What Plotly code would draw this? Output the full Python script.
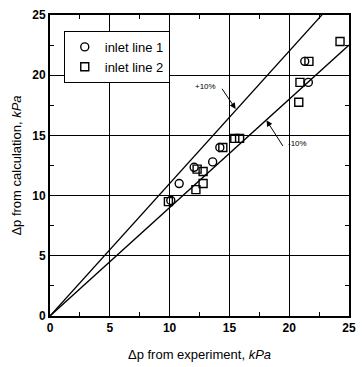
import plotly.graph_objects as go

# Data
line1_exp = [10.1, 10.8, 12.05, 13.6, 14.2, 21.3, 21.6]
line1_calc = [9.6, 11.0, 12.35, 12.8, 14.0, 21.15, 19.4]

line2_exp = [9.9, 12.2, 12.8, 12.3, 12.8, 14.45, 15.45, 15.85, 20.8, 20.9, 21.65, 24.25]
line2_calc = [9.5, 10.5, 11.0, 12.2, 12.0, 14.0, 14.75, 14.75, 17.75, 19.4, 21.15, 22.8]

band_factors = [1.1, 0.9]
band_labels = ["+10%", "-10%"]
line_x = [0, 25]
tick_vals = [0, 5, 10, 15, 20, 25]

FONT = "Liberation Sans, Arial, sans-serif"

fig = go.Figure()

for f in band_factors:
    fig.add_trace(go.Scatter(
        x=line_x, y=[f * v for v in line_x], mode="lines",
        line=dict(color="black", width=1.3), showlegend=False, hoverinfo="skip"))

fig.add_trace(go.Scatter(
    x=line1_exp, y=line1_calc, mode="markers", name="inlet line 1",
    marker=dict(symbol="circle-open", size=8, color="black", line=dict(width=1.4))))
fig.add_trace(go.Scatter(
    x=line2_exp, y=line2_calc, mode="markers", name="inlet line 2",
    marker=dict(symbol="square-open", size=8, color="black", line=dict(width=1.4))))

axis_common = dict(
    range=[0, 25], tickmode="array", tickvals=tick_vals,
    ticks="inside", ticklen=3, tickcolor="black", tickwidth=1,
    showgrid=True, gridcolor="black", gridwidth=1.2,
    showline=True, linecolor="black", linewidth=2, mirror="allticks",
    zeroline=False,
    tickfont=dict(family=FONT, size=12, color="black", weight="bold"),
    minor=dict(tickmode="linear", dtick=2.5, tick0=0, ticks="inside", ticklen=4,
               tickcolor="black", tickwidth=1.2, showgrid=False),
)

fig.update_xaxes(**axis_common,
                 title=dict(text="Δp from experiment, <i>kPa</i>",
                            font=dict(family=FONT, size=13, color="black"),
                            standoff=15))
fig.update_yaxes(**axis_common,
                 title=dict(text="Δp from calculation, <i>kPa</i>",
                            font=dict(family=FONT, size=13, color="black"),
                            standoff=8))

# annotations for +/-10% lines
fig.add_annotation(x=12.99, y=19.1, text=band_labels[0], showarrow=False,
                   font=dict(family=FONT, size=8, color="black"))
fig.add_annotation(x=15.52, y=17.2, ax=14.3, ay=19.0, axref="x", ayref="y",
                   text="", showarrow=True, arrowhead=2, arrowsize=1.2,
                   arrowwidth=1, arrowcolor="black")
fig.add_annotation(x=20.67, y=14.3, text=band_labels[1], showarrow=False,
                   font=dict(family=FONT, size=8, color="black"))
fig.add_annotation(x=18.1, y=16.25, ax=19.55, ay=14.0, axref="x", ayref="y",
                   text="", showarrow=True, arrowhead=2, arrowsize=1.2,
                   arrowwidth=1, arrowcolor="black")

fig.update_layout(
    width=363, height=367,
    margin=dict(l=50, r=7, t=15, b=47),
    paper_bgcolor="white", plot_bgcolor="white",
    showlegend=True,
    legend=dict(x=0.046, y=0.947, xanchor="left", yanchor="top",
                bgcolor="white", bordercolor="black", borderwidth=1,
                font=dict(family=FONT, size=13, color="black"),
                itemwidth=30, tracegroupgap=0),
)

fig.write_html("out.html", config={"displayModeBar": False},
               post_script="document.body.style.margin='0';document.body.style.overflow='hidden';")
